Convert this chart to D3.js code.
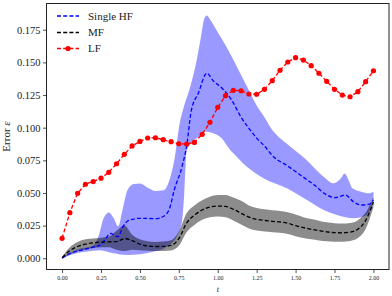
<!DOCTYPE html>
<html>
<head>
<meta charset="utf-8">
<script src="https://cdn.jsdelivr.net/npm/d3@7"></script>
<style>
  body { margin: 0; background: #fff; }
  svg { display: block; font-family: "Liberation Serif", "Times New Roman", serif; }
</style>
</head>
<body>
<div id="chart"></div>
<script>
// ---- data ----
// low fidelity, one point every 0.05
const lfT = d3.range(0, 41).map(i => i * 0.05);
const lfErr = [0.0153, 0.0349, 0.0498, 0.0567, 0.0587, 0.0613, 0.0658, 0.0724, 0.0796, 0.0860,
  0.0895, 0.0921, 0.0923, 0.0908, 0.0893, 0.0877, 0.0875, 0.0887, 0.0949, 0.1041,
  0.1156, 0.1245, 0.1286, 0.1283, 0.1258, 0.1256, 0.1294, 0.1360, 0.1440, 0.1503,
  0.1536, 0.1518, 0.1475, 0.1417, 0.1355, 0.1294, 0.1250, 0.1237, 0.1276, 0.1352, 0.1436];

// single HF mean
const hfT = [0, 0.05, 0.1, 0.15, 0.2, 0.25, 0.28, 0.31, 0.36, 0.39, 0.43, 0.5, 0.6, 0.65, 0.69, 0.72,
  0.77, 0.8, 0.83, 0.875, 0.93, 0.97, 1.03, 1.09, 1.15, 1.2, 1.25, 1.3, 1.36, 1.44, 1.53, 1.62,
  1.7, 1.755, 1.82, 1.87, 1.92, 1.97, 2.0];
const hfMean = [0, 0.0035, 0.0055, 0.007, 0.0085, 0.0105, 0.015, 0.019, 0.0165, 0.024, 0.029, 0.0306,
  0.0304, 0.032, 0.038, 0.052, 0.07, 0.086, 0.113, 0.1263, 0.1417, 0.136, 0.130, 0.121, 0.108,
  0.0995, 0.092, 0.086, 0.0775, 0.0714, 0.0638, 0.0561, 0.0485, 0.0464, 0.0485, 0.0434, 0.0408,
  0.0413, 0.0446];

// single HF band, upper edge
const hfUpT = [0, 0.1, 0.2, 0.24, 0.265, 0.3, 0.33, 0.36, 0.39, 0.42, 0.46, 0.5, 0.55, 0.6, 0.65,
  0.69, 0.725, 0.755, 0.78, 0.82, 0.86, 0.89, 0.915, 0.93, 0.955, 1.0, 1.06, 1.1, 1.19, 1.25, 1.3,
  1.34, 1.44, 1.57, 1.68, 1.745, 1.79, 1.815, 1.84, 1.865, 1.92, 1.97, 2.0];
const hfUp = [0.0005, 0.0068, 0.0098, 0.019, 0.03, 0.035, 0.031, 0.0245, 0.038, 0.052, 0.0568, 0.0572,
  0.054, 0.0515, 0.052, 0.060, 0.078, 0.103, 0.115, 0.130, 0.149, 0.168, 0.184, 0.186, 0.182,
  0.173, 0.161, 0.152, 0.131, 0.117, 0.108, 0.100, 0.088, 0.0753, 0.0625, 0.0574, 0.061, 0.065,
  0.060, 0.0536, 0.051, 0.0498, 0.051];

// single HF band, lower edge
const hfLoT = [0, 0.1, 0.2, 0.243, 0.33, 0.414, 0.5, 0.586, 0.672, 0.736, 0.77, 0.785, 0.8, 0.84,
  0.88, 0.92, 0.97, 1.02, 1.08, 1.1, 1.187, 1.294, 1.444, 1.573, 1.68, 1.766, 1.873, 1.937, 1.98, 2.0];
const hfLo = [0, 0.004, 0.0058, 0.0062, 0.0038, 0.0025, 0.003, 0.005, 0.0089, 0.0165, 0.028, 0.05,
  0.082, 0.0895, 0.093, 0.097, 0.0957, 0.0925, 0.083, 0.0804, 0.0701, 0.0613, 0.0536, 0.0446,
  0.037, 0.0332, 0.0306, 0.0319, 0.037, 0.0446];

// multi fidelity, same grid as LF
const mfMean = [0.0005, 0.0058, 0.0090, 0.0108, 0.0118, 0.0124, 0.0126, 0.0128, 0.0150, 0.0135,
  0.0108, 0.0094, 0.0090, 0.0091, 0.0098, 0.0150, 0.0270, 0.0330, 0.0370, 0.0392,
  0.0400, 0.0397, 0.0375, 0.0345, 0.0315, 0.0298, 0.0290, 0.0283, 0.0278, 0.0268,
  0.0250, 0.0235, 0.0222, 0.0212, 0.0202, 0.0196, 0.0195, 0.0200, 0.0222, 0.0290, 0.0430];
const mfUp = [0.001, 0.0085, 0.0125, 0.0145, 0.0152, 0.0158, 0.0165, 0.021, 0.025, 0.018,
  0.0145, 0.013, 0.0125, 0.0128, 0.0138, 0.0205, 0.0345, 0.0405, 0.0445, 0.0472,
  0.0485, 0.0485, 0.0465, 0.0440, 0.0405, 0.0385, 0.0375, 0.0368, 0.0362, 0.0352,
  0.0335, 0.0315, 0.0300, 0.0288, 0.0275, 0.0268, 0.0266, 0.0270, 0.0292, 0.0350, 0.0470];
const mfLo = [0.0, 0.003, 0.0055, 0.0068, 0.0078, 0.0085, 0.0085, 0.0065, 0.0055, 0.0065,
  0.0062, 0.0058, 0.0055, 0.0056, 0.006, 0.0095, 0.0200, 0.0255, 0.0295, 0.0315,
  0.0320, 0.0315, 0.0290, 0.0258, 0.0228, 0.0212, 0.0205, 0.0200, 0.0195, 0.0185,
  0.0168, 0.0155, 0.0145, 0.0137, 0.0130, 0.0126, 0.0126, 0.0132, 0.0155, 0.0225, 0.0390];

const xTicks = [0, 0.25, 0.5, 0.75, 1.0, 1.25, 1.5, 1.75, 2.0];
const yTicks = [0, 0.025, 0.05, 0.075, 0.1, 0.125, 0.15, 0.175];
const legendNames = ["Single HF", "MF", "LF"];

// ---- layout ----
const W = 392, H = 296;
const M = { left: 46.5, right: 389, top: 3.5, bottom: 269.5 };

const svg = d3.select('#chart').append('svg')
  .attr('width', W)
  .attr('height', H);

const x = d3.scaleLinear().domain([-0.1, 2.1]).range([M.left, M.right]);
const y = d3.scaleLinear().domain([-0.0086, 0.1951]).range([M.bottom, M.top]);

const zip = (ts, vs) => ts.map((t, i) => [t, vs[i]]);

const line = d3.line()
  .x(d => x(d[0]))
  .y(d => y(d[1]))
  .curve(d3.curveMonotoneX);

// closed band: upper edge left to right, lower edge back right to left
function bandPath(up, lo) {
  const back = line(lo.slice().reverse());
  return line(up) + 'L' + back.slice(1) + 'Z';
}

const plot = svg.append('g');

// HF band
plot.append('path')
  .attr('d', bandPath(zip(hfUpT, hfUp), zip(hfLoT, hfLo)))
  .attr('fill', 'blue')
  .attr('fill-opacity', 0.4);

// MF band (drawn over the HF band)
plot.append('path')
  .attr('d', bandPath(zip(lfT, mfUp), zip(lfT, mfLo)))
  .attr('fill', 'black')
  .attr('fill-opacity', 0.45);

// HF mean
plot.append('path')
  .attr('d', line(zip(hfT, hfMean)))
  .attr('fill', 'none')
  .attr('stroke', 'blue')
  .attr('stroke-width', 1.3)
  .attr('stroke-dasharray', '4,2.2');

// MF mean
plot.append('path')
  .attr('d', line(zip(lfT, mfMean)))
  .attr('fill', 'none')
  .attr('stroke', 'black')
  .attr('stroke-width', 1.3)
  .attr('stroke-dasharray', '4,2.2');

// LF, straight segments with markers
const lfPts = zip(lfT, lfErr);
plot.append('path')
  .attr('d', d3.line().x(d => x(d[0])).y(d => y(d[1]))(lfPts))
  .attr('fill', 'none')
  .attr('stroke', 'red')
  .attr('stroke-width', 1.3)
  .attr('stroke-dasharray', '4,2.2');
plot.selectAll('circle.lf')
  .data(lfPts)
  .join('circle')
  .attr('class', 'lf')
  .attr('cx', d => x(d[0]))
  .attr('cy', d => y(d[1]))
  .attr('r', 2.6)
  .attr('fill', 'red');

// Axes
const xAxis = svg.append('g')
  .attr('transform', `translate(0, ${M.bottom})`)
  .call(d3.axisBottom(x).tickValues(xTicks).tickFormat(d3.format('.2f')).tickSize(3.5).tickPadding(3));
xAxis.select('.domain').remove();
xAxis.selectAll('text').style('font-size', '6px').style('font-family', '"Liberation Serif", serif').attr('fill', '#222');
xAxis.selectAll('line').attr('stroke', '#222').attr('stroke-width', 0.8);

const yAxis = svg.append('g')
  .attr('transform', `translate(${M.left}, 0)`)
  .call(d3.axisLeft(y).tickValues(yTicks).tickFormat(d3.format('.3f')).tickSize(3.5).tickPadding(2.5));
yAxis.select('.domain').remove();
yAxis.selectAll('text').style('font-size', '10.5px').style('font-family', '"Liberation Serif", serif').attr('fill', '#222');
yAxis.selectAll('line').attr('stroke', '#222').attr('stroke-width', 0.8);

// Frame
svg.append('rect')
  .attr('x', M.left)
  .attr('y', M.top)
  .attr('width', M.right - M.left)
  .attr('height', M.bottom - M.top)
  .attr('fill', 'none')
  .attr('stroke', '#222')
  .attr('stroke-width', 1);

// Axis labels
svg.append('text')
  .attr('x', (M.left + M.right) / 2)
  .attr('y', 292)
  .attr('text-anchor', 'middle')
  .style('font-size', '8px')
  .style('font-style', 'italic')
  .attr('fill', '#222')
  .text('t');

const yl = svg.append('text')
  .attr('transform', `translate(10, ${(M.top + M.bottom) / 2}) rotate(-90)`)
  .attr('text-anchor', 'middle')
  .style('font-size', '11px')
  .attr('fill', '#222');
yl.append('tspan').text('Error ');
yl.append('tspan').style('font-style', 'italic').text('ε');

// Legend
const legendColors = ['blue', 'black', 'red'];
const legendY = [16, 32.5, 48.5];
const LEG = svg.append('g');
legendNames.forEach((name, i) => {
  LEG.append('line')
    .attr('x1', 57).attr('x2', 79)
    .attr('y1', legendY[i]).attr('y2', legendY[i])
    .attr('stroke', legendColors[i])
    .attr('stroke-width', 1.3)
    .attr('stroke-dasharray', '4,2.2');
  if (name === 'LF') {
    LEG.append('circle')
      .attr('cx', 68).attr('cy', legendY[i])
      .attr('r', 2.6).attr('fill', 'red');
  }
  LEG.append('text')
    .attr('x', 88)
    .attr('y', legendY[i])
    .attr('dy', '0.35em')
    .style('font-size', '11px')
    .attr('fill', '#222')
    .text(name);
});
</script>
</body>
</html>
